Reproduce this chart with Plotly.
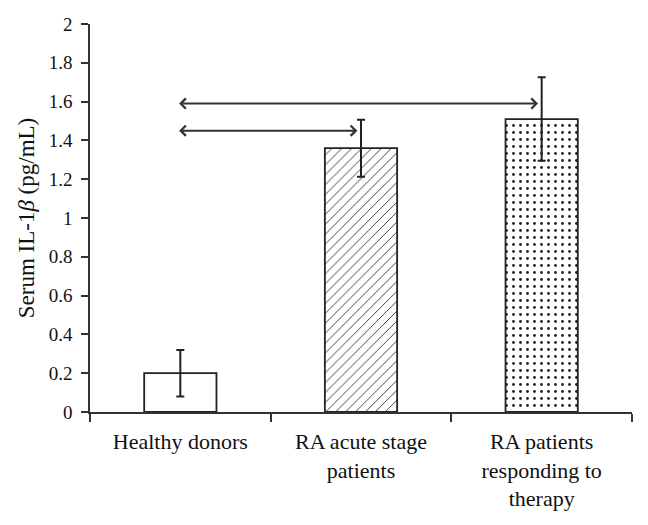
import plotly.graph_objects as go

# ---- data ----
categories = ["Healthy donors", "RA acute stage<br>patients", "RA patients<br>responding to<br>therapy"]
means = [0.20, 1.36, 1.51]
errors = [0.12, 0.147, 0.215]
patterns = ["", "/", "."]

# comparison arrows between groups (from index, to index, y level)
comp_from = [0, 0]
comp_to = [1, 2]
comp_y = [1.45, 1.59]

FONT = "Liberation Serif"
INK = "#222222"

fig = go.Figure()
fig.add_trace(go.Bar(
    x=categories,
    y=means,
    width=0.4,
    marker=dict(
        color="white",
        line=dict(color=INK, width=1.8),
        pattern=dict(
            shape=patterns,
            size=[8, 7, 7],
            solidity=[0.1, 0.12, 0.13],
            fgcolor="#222222",
            bgcolor="white",
            fillmode="replace",
        ),
    ),
    error_y=dict(type="data", array=errors, visible=True, color=INK, thickness=2, width=4),
    showlegend=False,
))

for f, t, yv in zip(comp_from, comp_to, comp_y):
    fig.add_annotation(
        x=t - 0.02, y=yv, xref="x", yref="y",
        ax=f - 0.015, ay=yv, axref="x", ayref="y",
        text="", showarrow=True,
        arrowhead=4, startarrowhead=4, arrowside="end+start",
        arrowsize=1.0, startarrowsize=1.0, arrowwidth=2, arrowcolor="#333333",
        standoff=0, startstandoff=0,
    )

fig.update_layout(
    width=648, height=525,
    margin=dict(l=90, r=16, t=24, b=113),
    paper_bgcolor="white", plot_bgcolor="white",
    font=dict(family=FONT, color="#111111", size=19),
    bargap=0.6,
)
fig.update_xaxes(
    type="category",
    range=[-0.5, 2.5],
    tickson="boundaries",
    ticks="outside", ticklen=8, tickwidth=1.5, tickcolor="#333333",
    showline=True, linecolor="#333333", linewidth=1.5,
    showgrid=False, zeroline=False,
    tickfont=dict(family=FONT, size=22, color="#111111"),
    ticklabelstandoff=9,
)
fig.update_yaxes(
    range=[0, 2], dtick=0.2, tick0=0,
    ticks="outside", ticklen=7, tickwidth=1.5, tickcolor="#333333",
    showline=True, linecolor="#333333", linewidth=1.5,
    showgrid=False, zeroline=False,
    tickfont=dict(family=FONT, size=19, color="#111111"),
    ticklabelstandoff=5,
    title=dict(text="Serum IL-1<i>β</i> (pg/mL)", font=dict(family=FONT, size=23, color="#111111"), standoff=8),
)

fig.write_html("out.html")
